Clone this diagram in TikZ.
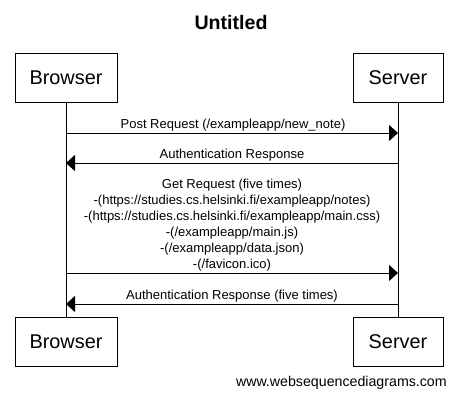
\documentclass[tikz,border=0pt]{standalone}
\usepackage{fontspec}
\setmainfont{Liberation Sans}
\usetikzlibrary{arrows.meta}
\begin{document}
\begin{tikzpicture}[x=0.75pt,y=-0.75pt,
  actor/.style={draw,line width=0.75pt,minimum width=#1*0.75pt,minimum height=49*0.75pt,inner sep=0pt,font=\fontsize{14.9}{18}\selectfont},
  life/.style={line width=0.75pt},
  msg/.style={line width=0.75pt,-{Triangle[length=6.75pt,width=12pt]},shorten >=0pt},
  lbl/.style={font=\fontsize{9.75}{12}\selectfont,inner sep=0pt,align=center}]
\useasboundingbox (0,0) rectangle (457,400);
\node[font=\bfseries\fontsize{14.7}{17}\selectfont] (title) at (231,22) {Untitled};
\node[actor=102] (bt) at (66,77.5) {Browser};
\node[actor=90] (st) at (398,77.5) {Server};
\node[actor=102] (bb) at (66,341.5) {Browser};
\node[actor=90] (sb) at (398,341.5) {Server};
\draw[life] (bt.south) -- (bb.north);
\draw[life] (st.south) -- (sb.north);
\coordinate (b1) at (66,133); \coordinate (s1) at (398,133);
\coordinate (b2) at (66,163); \coordinate (s2) at (398,163);
\coordinate (b3) at (66,273); \coordinate (s3) at (398,273);
\coordinate (b4) at (66,304); \coordinate (s4) at (398,304);
\draw[msg] (b1) -- (s1);
\draw[msg] (s2) -- (b2);
\draw[msg] (b3) -- (s3);
\draw[msg] (s4) -- (b4);
\node[lbl] (l1) at (233,125) {Post Request (/exampleapp/new\_note)};
\node[lbl] (l2) at (232,155) {Authentication Response};
\node[lbl] (l3) at (232,225.5) {Get Request (five times)\\-(https://studies.cs.helsinki.fi/exampleapp/notes)\\-(https://studies.cs.helsinki.fi/exampleapp/main.css)\\-(/exampleapp/main.js)\\-(/exampleapp/data.json)\\-(/favicon.ico)};
\node[lbl] (l4) at (232,296) {Authentication Response (five times)};
\node[font=\fontsize{10.65}{12}\selectfont,inner sep=0pt,anchor=east] (foot) at (447,383) {www.websequencediagrams.com};
\end{tikzpicture}
\end{document}
